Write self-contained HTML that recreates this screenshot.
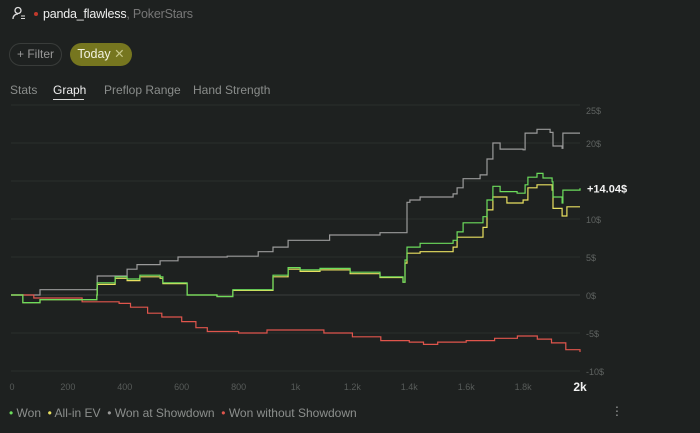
<!DOCTYPE html>
<html><head><meta charset="utf-8">
<style>
html,body{margin:0;padding:0;background:#1e2120;width:700px;height:433px;overflow:hidden;font-family:"Liberation Sans",sans-serif;}
.abs{position:absolute}
</style></head>
<body>
<div class="abs" style="left:12px;top:6px;width:14px;height:14px">
<svg width="14" height="14" viewBox="0 0 14 14"><circle cx="6" cy="4.5" r="3" fill="none" stroke="#ddd" stroke-width="1.3"/><path d="M1 13c0-3 2-5 5-5" fill="none" stroke="#ddd" stroke-width="1.3"/><path d="M9 10h4M9 12.5h4" stroke="#ddd" stroke-width="1.1"/></svg></div>
<div class="abs" style="left:34px;top:12px;width:4px;height:4px;border-radius:50%;background:#c0392b"></div>
<div class="abs" style="left:43px;top:7px;font-size:12.5px;color:#eee;letter-spacing:-0.2px">panda_flawless<span style="color:#777">, PokerStars</span></div>
<div class="abs" style="left:9px;top:43px;width:53px;height:23px;border:1px solid #393c3a;border-radius:12px;box-sizing:border-box;color:#999;font-size:12px;line-height:21px;text-align:center">+ Filter</div>
<div class="abs" style="left:70px;top:43px;width:62px;height:23px;border-radius:12px;background:#76761f;color:#f2f2e0;font-size:12.5px;line-height:23px;text-align:center">Today <span style="color:#c9c98a">✕</span></div>
<div class="abs" style="left:10px;top:83px;font-size:12px;color:#8a8d8b">Stats</div>
<div class="abs" style="left:53px;top:83px;font-size:12px;color:#eee">Graph</div>
<div class="abs" style="left:53px;top:99px;width:31px;height:1px;background:#ddd"></div>
<div class="abs" style="left:104px;top:83px;font-size:12px;color:#8a8d8b">Preflop Range</div>
<div class="abs" style="left:193px;top:83px;font-size:12px;color:#8a8d8b">Hand Strength</div>

<svg class="abs" style="left:0;top:0" width="700" height="433" id="chart"></svg>

<div class="abs" style="left:9px;top:406px;font-size:12px;color:#8c8f8d;white-space:nowrap">
<span><span style="color:#6cdc5c">•</span> Won</span>&nbsp;
<span><span style="color:#e8e060">•</span> All-in EV</span>&nbsp;
<span><span style="color:#999">•</span> Won at Showdown</span>&nbsp;
<span><span style="color:#e0554c">•</span> Won without Showdown</span></div>
<div class="abs" style="left:613px;top:404px;font-size:14px;color:#999;line-height:4px;width:8px;text-align:center">·<br>·<br>·</div>

<script>
const yTicks=[25,20,15,10,5,0,-5,-10];
const yLabels=["25$","20$","","10$","5$","0$","-5$","-10$"];
const xTicks=[0,200,400,600,800,1000,1200,1400,1600,1800,2000];
const xLabels=["0","200","400","600","800","1k","1.2k","1.4k","1.6k","1.8k","2k"];
const wonH=[0,42,102,302,303,366,408,453,524,534,619,724,780,840,921,974,1016,1086,1192,1297,1378,1385,1392,1438,1554,1568,1589,1659,1673,1694,1719,1779,1800,1807,1817,1849,1870,1902,1905,1937,1940,2000];
const wonV=[0,-1.0,-0.6,0,1.6,2.4,2.1,2.6,2.4,1.6,0,-0.2,0.7,0.7,2.6,3.6,3.3,3.5,3.0,2.4,1.7,4.6,6.3,6.8,7.2,8.3,9.5,10.3,12.5,14.3,13.6,13.4,13.4,14.5,15.5,16,15.4,14.9,12.9,12.1,13.8,14.04];
const evH=[0,42,102,302,303,366,408,453,524,534,619,724,780,840,921,974,1016,1086,1192,1297,1378,1385,1392,1438,1554,1568,1589,1659,1673,1694,1743,1800,1817,1849,1902,1905,1937,1954,2000];
const evV=[0,-1.0,-0.6,0,1.4,2.2,1.9,2.4,2.2,1.5,0,-0.2,0.6,0.6,2.4,3.4,3.1,3.3,2.8,2.3,1.7,4.2,5.5,5.7,6.3,7.6,7.6,8.9,11.2,12.9,12.1,12.5,14.1,14.5,13.8,11.4,10.4,11.6,11.6];
const sdH=[0,102,137,302,303,408,443,524,587,760,869,921,974,1120,1297,1385,1392,1402,1438,1554,1568,1589,1649,1673,1694,1719,1800,1807,1849,1895,1905,1937,1940,2000];
const sdV=[0,0.7,0.7,0.9,2.5,3.4,4.0,4.5,5.0,5.1,5.7,6.3,7.2,7.9,8.2,8.2,12.2,12.5,12.9,13.3,14.1,15.3,15.8,17.9,20,19.2,19.1,21.3,21.8,21.4,19.6,19.3,21.3,21.3];
const nsdH=[0,80,250,380,420,480,530,600,650,690,800,900,1000,1100,1200,1300,1400,1450,1500,1600,1700,1780,1850,1900,1950,2000];
const nsdV=[0,-0.4,-0.9,-1.1,-1.6,-2.4,-2.9,-3.5,-4.3,-4.8,-5.0,-4.6,-4.6,-5.0,-5.5,-6.0,-6.2,-6.5,-6.2,-6.0,-5.7,-5.4,-5.8,-6.3,-7.2,-7.5];
const finalLabel="+14.04$";

const X=h=>11+h*0.2845;
const Y=v=>295-v*7.6;
const svg=document.getElementById('chart');
const NS='http://www.w3.org/2000/svg';
function mk(t,a){const e=document.createElementNS(NS,t);for(const k in a)e.setAttribute(k,a[k]);svg.appendChild(e);return e;}
yTicks.forEach((t,i)=>{
  const l=mk('line',{x1:11,x2:580,y1:Y(t),y2:Y(t),stroke:t===0?'#3a3d3b':'#2b2e2c','stroke-width':1});
  
  
  const tx=mk('text',{x:586,y:Y(t)+(t===25?9:4),fill:'#5f6361','font-size':9});
  tx.textContent=yLabels[i];
  
  
});
xTicks.forEach((t,i)=>{
  const last=i===xTicks.length-1;
  const tx=mk('text',{x:X(t)+(i===0?1:0),y:last?391:390,fill:last?'#f2f2f2':'#575b59','font-size':last?12:9,'font-weight':last?'bold':'normal','text-anchor':'middle'});
  tx.textContent=xLabels[i];
  
  
});
function stepPath(H,V){let d='M'+X(H[0])+' '+Y(V[0]);for(let i=1;i<H.length;i++){d+=' H'+X(H[i]).toFixed(1)+' V'+Y(V[i]).toFixed(1);}return d;}
[[sdH,sdV,'#9a9a9a','series-won-at-showdown'],[nsdH,nsdV,'#e0554c','series-won-without-showdown'],[evH,evV,'#e8e060','series-all-in-ev'],[wonH,wonV,'#6cdc5c','series-won']].forEach(s=>{
  const p=mk('path',{d:stepPath(s[0],s[1]),fill:'none',stroke:s[2],'stroke-width':1.2});
  
  
});
const fl=mk('text',{x:587,y:Y(wonV[wonV.length-1])+4,fill:'#f2f2f2','font-size':11,'font-weight':'bold'});
fl.textContent=finalLabel;


</script>
</body></html>
